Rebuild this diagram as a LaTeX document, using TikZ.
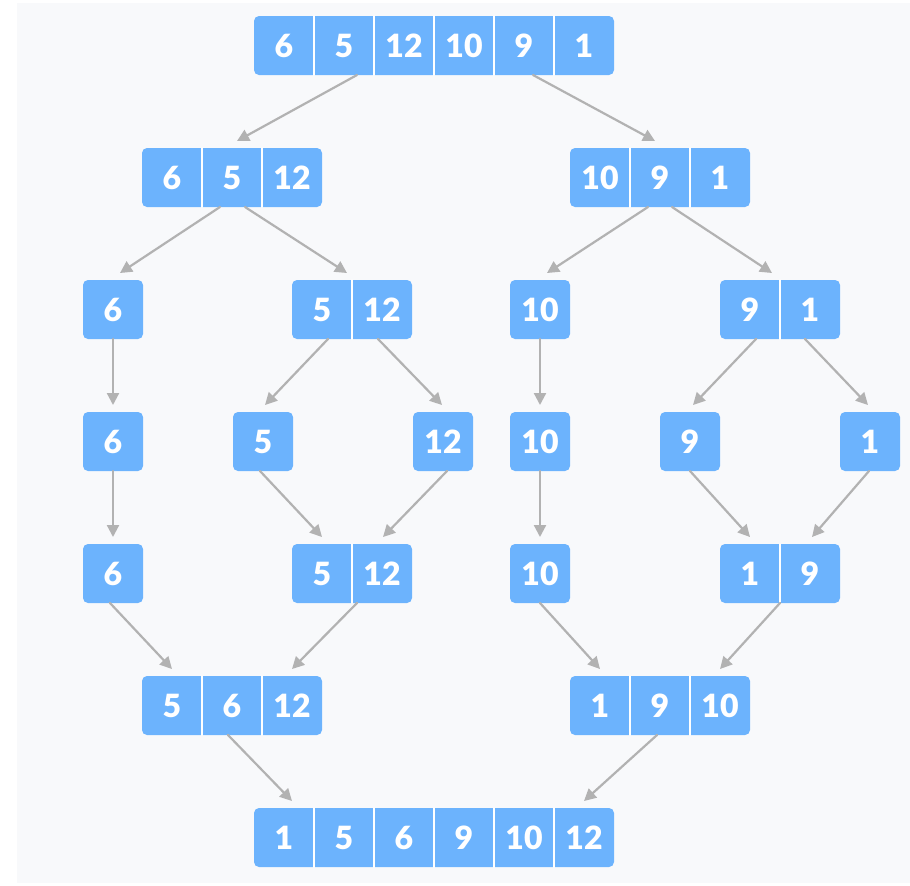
\documentclass[tikz,border=0pt]{standalone}
\usepackage{fontspec}
\setmainfont{Lato}[BoldFont={Lato Black}]
\usetikzlibrary{arrows.meta}
\definecolor{cellblue}{RGB}{108,179,253}
\definecolor{linkgray}{RGB}{178,178,178}
\definecolor{bggray}{RGB}{248,249,251}

\tikzset{
  arr/.style={fill=cellblue,rounded corners=2.5pt,inner sep=0pt,outer sep=0pt,minimum height=29.5pt},
  celltxt/.style={text=white,font=\fontsize{16}{19}\selectfont\bfseries,inner sep=0pt},
  cellsep/.style={white,line width=1pt},
  link/.style={draw=linkgray,line width=1.1pt,-{Triangle[length=6pt,width=6pt]}},
}

% one array: name, x, y, number of cells, values
\newcommand\arrayrow[5]{%
  \node[arr,minimum width=#4*30pt] (#1) at (#2,#3) {};
  \foreach \v [count=\i] in {#5} {
    \node[celltxt] (#1-\i) at ([xshift=(\i-0.5)*30pt]#1.west) {\v};
    \ifnum\i>1 \draw[cellsep] ([xshift=(\i-1)*30pt]#1.north west) -- ([xshift=(\i-1)*30pt]#1.south west);\fi
  }%
}

\begin{document}
\begin{tikzpicture}[x=0.5pt,y=-0.5pt,line cap=round,line join=round]
\useasboundingbox (0,0) rectangle (910,885);
\fill[bggray] (17,3) rectangle (910,883);
% split
\arrayrow{top}{434}{45.5}{6}{6,5,12,10,9,1}
\arrayrow{la}{232}{177.5}{3}{6,5,12}
\arrayrow{ra}{660}{177.5}{3}{10,9,1}
\arrayrow{lb1}{113}{309.5}{1}{6}
\arrayrow{lb2}{352}{309.5}{2}{5,12}
\arrayrow{rb1}{540}{309.5}{1}{10}
\arrayrow{rb2}{780}{309.5}{2}{9,1}
\arrayrow{lc1}{113}{441.5}{1}{6}
\arrayrow{lc2}{263}{441.5}{1}{5}
\arrayrow{lc3}{443}{441.5}{1}{12}
\arrayrow{rc1}{540}{441.5}{1}{10}
\arrayrow{rc2}{690}{441.5}{1}{9}
\arrayrow{rc3}{870}{441.5}{1}{1}
% merge
\arrayrow{ld1}{113}{573.5}{1}{6}
\arrayrow{ld2}{352}{573.5}{2}{5,12}
\arrayrow{rd1}{540}{573.5}{1}{10}
\arrayrow{rd2}{780}{573.5}{2}{1,9}
\arrayrow{le}{232}{705.5}{3}{5,6,12}
\arrayrow{re}{660}{705.5}{3}{1,9,10}
\arrayrow{sorted}{434}{837.5}{6}{1,5,6,9,10,12}
% connectors
\draw[link] ([xshift=-38.5pt]top.south) -- ([xshift=2.5pt,yshift=3.5pt]la.north);
\draw[link] ([xshift=49.5pt]top.south) -- ([xshift=-2.5pt,yshift=3.5pt]ra.north);
\draw[link] ([xshift=-6pt]la.south) -- ([xshift=3.5pt,yshift=3.5pt]lb1.north);
\draw[link] ([xshift=6.5pt]la.south) -- ([xshift=-2.5pt,yshift=3.5pt]lb2.north);
\draw[link] ([xshift=-6pt]ra.south) -- ([xshift=3.5pt,yshift=3.5pt]rb1.north);
\draw[link] ([xshift=6pt]ra.south) -- ([xshift=-4pt,yshift=3.5pt]rb2.north);
\draw[link] (lb1.south) -- ([yshift=3.5pt]lc1.north);
\draw[link] ([xshift=-12pt]lb2.south) -- ([xshift=1pt,yshift=3.5pt]lc2.north);
\draw[link] ([xshift=13pt]lb2.south) -- ([xshift=-0.5pt,yshift=3.5pt]lc3.north);
\draw[link] (rb1.south) -- ([yshift=3.5pt]rc1.north);
\draw[link] ([xshift=-12pt]rb2.south) -- ([xshift=1.5pt,yshift=3.5pt]rc2.north);
\draw[link] ([xshift=12.5pt]rb2.south) -- ([xshift=-1pt,yshift=3.5pt]rc3.north);
\draw[link] (lc1.south) -- ([yshift=3.5pt]ld1.north);
\draw[link] ([xshift=-1.5pt]lc2.south) -- ([xshift=-15pt,yshift=3.5pt]ld2.north);
\draw[link] ([xshift=2pt]lc3.south) -- ([xshift=15.5pt,yshift=3.5pt]ld2.north);
\draw[link] (rc1.south) -- ([yshift=3.5pt]rd1.north);
\draw[link] (rc2.south) -- ([xshift=-15pt,yshift=3.5pt]rd2.north);
\draw[link] ([xshift=-0.5pt]rc3.south) -- ([xshift=16pt,yshift=3.5pt]rd2.north);
\draw[link] ([xshift=-1.5pt]ld1.south) -- ([xshift=-30pt,yshift=3.5pt]le.north);
\draw[link] ([xshift=2.5pt]ld2.south) -- ([xshift=30pt,yshift=3.5pt]le.north);
\draw[link] (rd1.south) -- ([xshift=-30pt,yshift=3.5pt]re.north);
\draw[link] (rd2.south) -- ([xshift=30pt,yshift=3.5pt]re.north);
\draw[link] ([xshift=-2pt]le.south) -- ([xshift=-71pt,yshift=3.5pt]sorted.north);
\draw[link] ([xshift=-1.5pt]re.south) -- ([xshift=75pt,yshift=3.5pt]sorted.north);
\end{tikzpicture}
\end{document}
